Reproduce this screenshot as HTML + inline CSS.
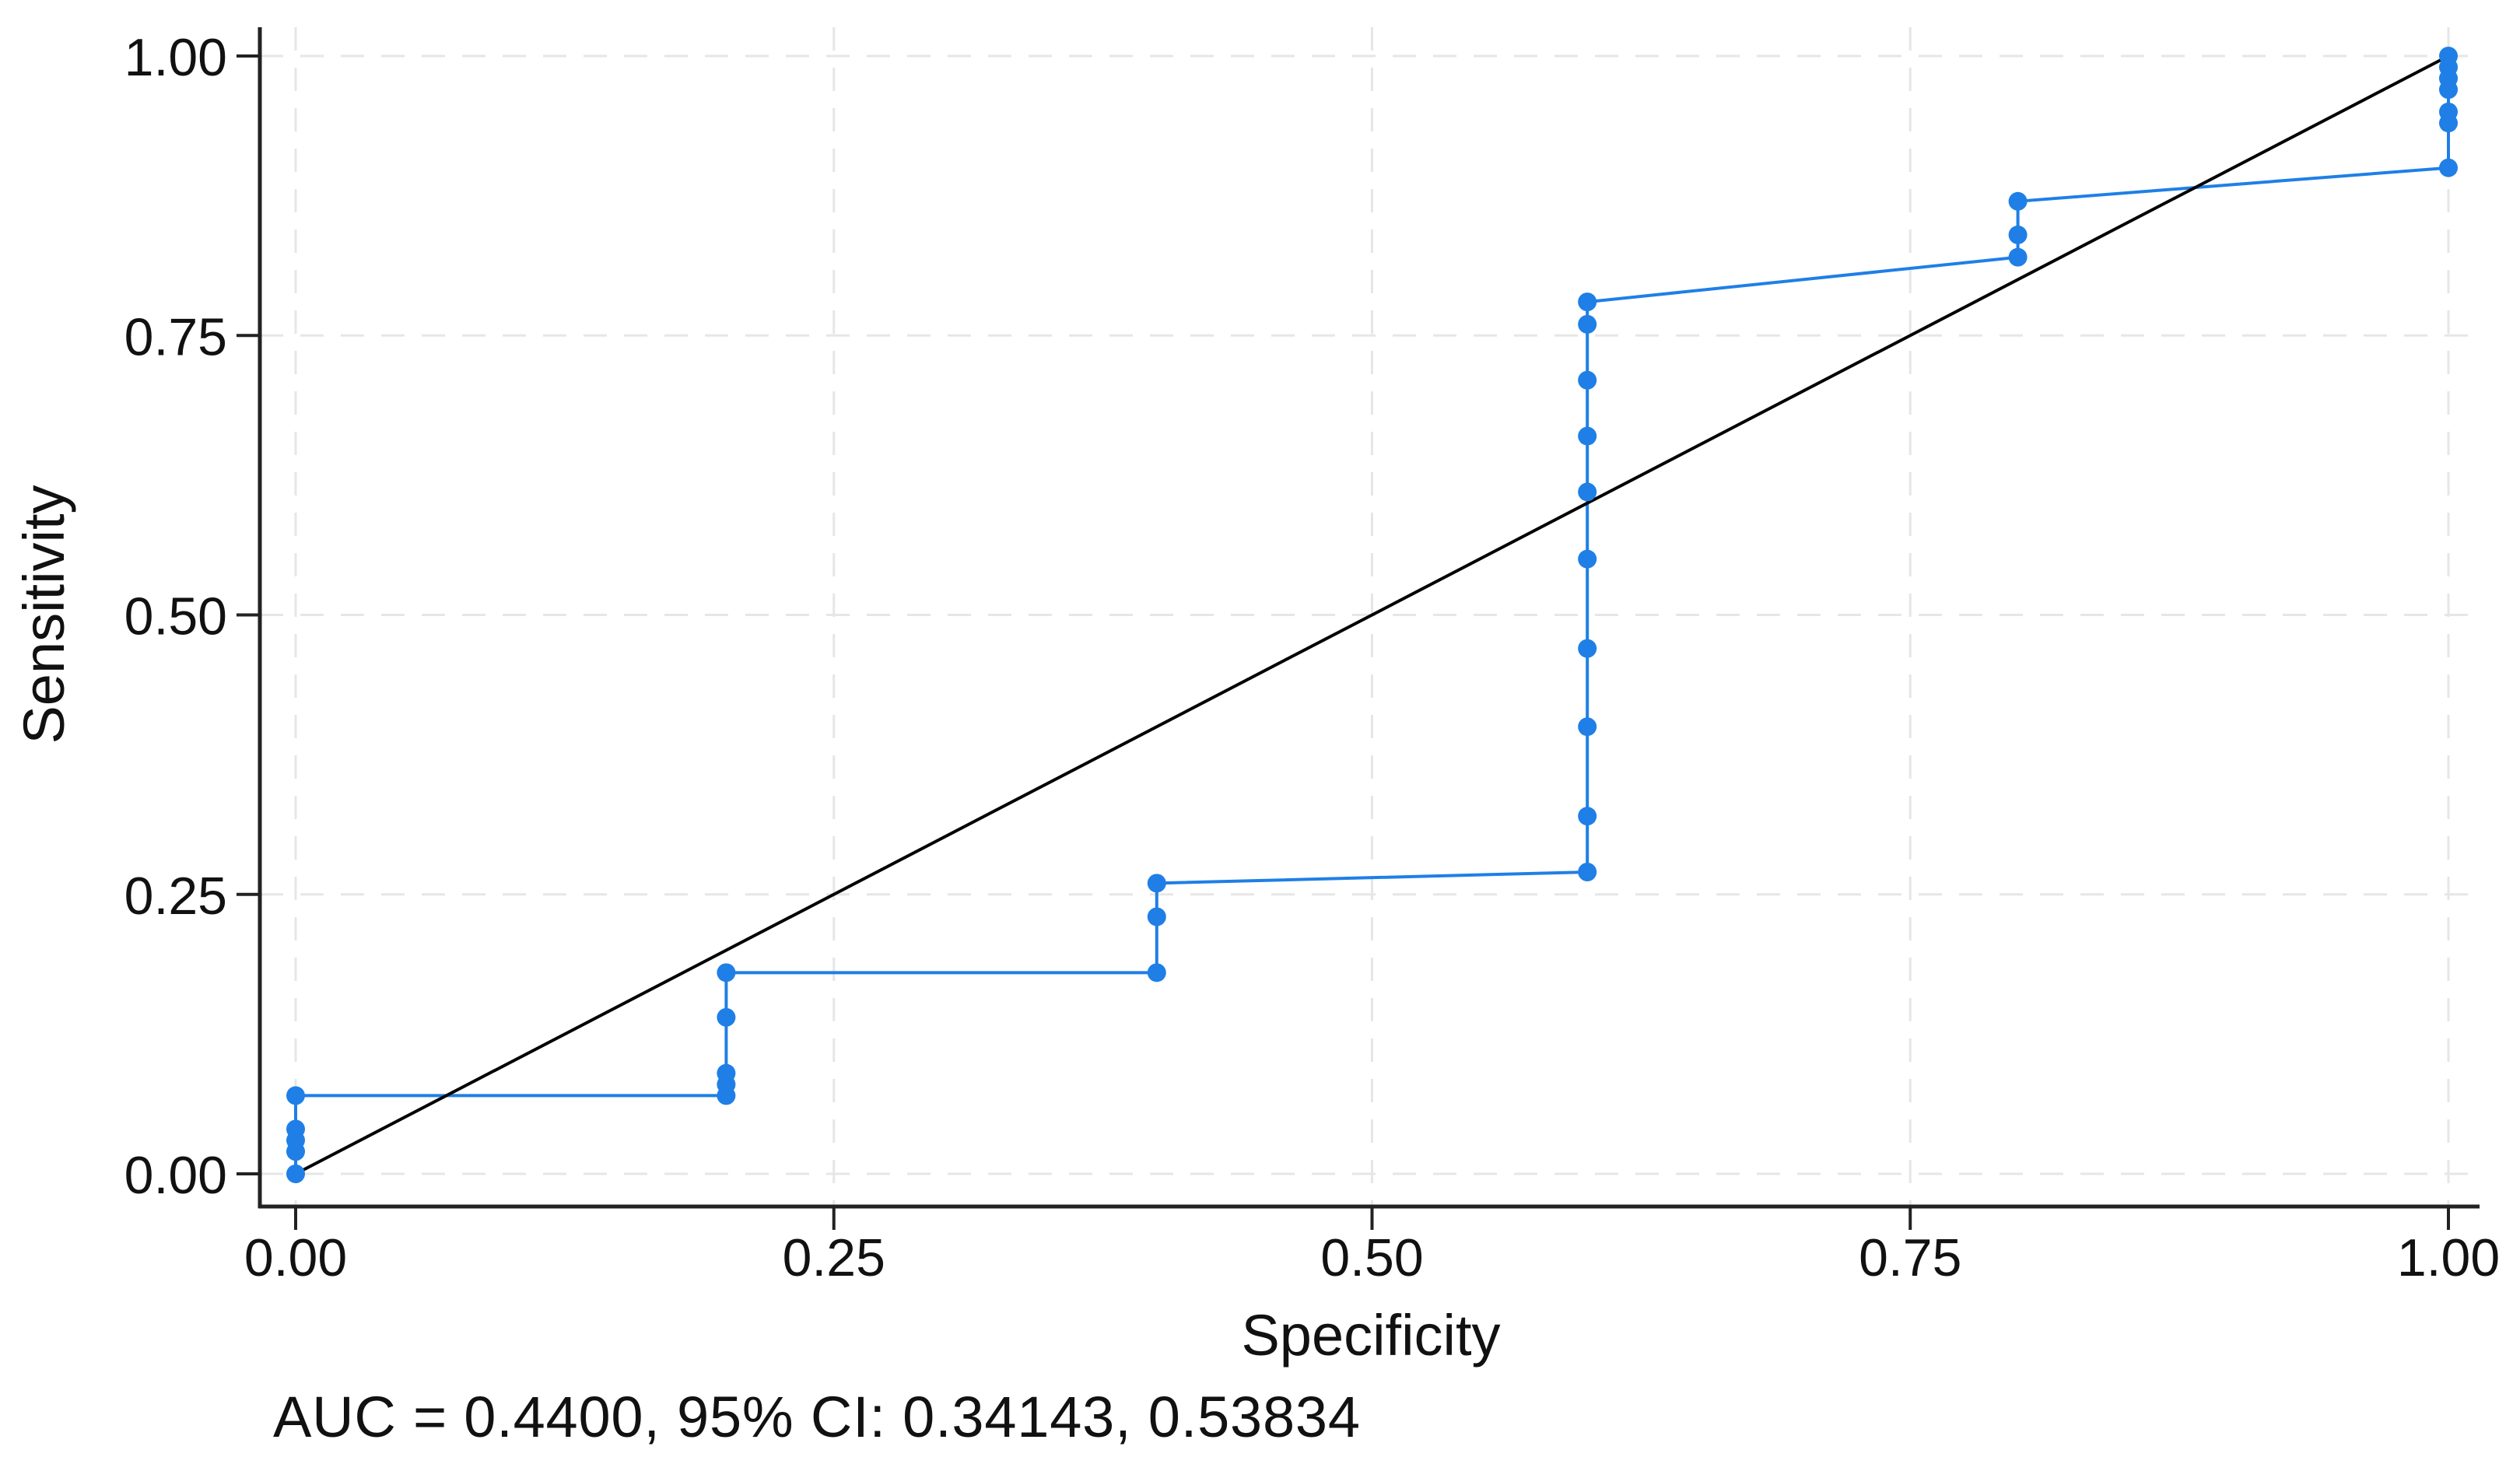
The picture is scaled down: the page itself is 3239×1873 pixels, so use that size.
<!DOCTYPE html>
<html><head><meta charset="utf-8"><style>
html,body{margin:0;padding:0;background:#fff;}
svg{display:block;font-family:"Liberation Sans",Arial,sans-serif;}
</style></head><body>
<svg id="chart" width="3239" height="1873" viewBox="0 0 3239 1873" xmlns="http://www.w3.org/2000/svg">
<rect width="3239" height="1873" fill="#fff"/>
<g id="grid"></g>
<g id="axes"></g>
<g id="series"></g>
<text x="1762" y="1742" font-size="74" text-anchor="middle" fill="#111">Specificity</text>
<text transform="translate(82,790) rotate(-90)" font-size="74" text-anchor="middle" fill="#111">Sensitivity</text>
<text x="351" y="1847" font-size="74" fill="#111" textLength="1397">AUC = 0.4400, 95% CI: 0.34143, 0.53834</text>
</svg>
<script>
const xTicks = [0, 0.25, 0.5, 0.75, 1];
const xTickLabels = ["0.00", "0.25", "0.50", "0.75", "1.00"];
const yTicks = [0, 0.25, 0.5, 0.75, 1];
const yTickLabels = ["0.00", "0.25", "0.50", "0.75", "1.00"];
const rocX = [0,0,0,0,0, 0.2,0.2,0.2,0.2,0.2, 0.4,0.4,0.4, 0.6,0.6,0.6,0.6,0.6,0.6,0.6,0.6,0.6,0.6, 0.8,0.8,0.8, 1,1,1,1,1,1,1];
const rocY = [0,0.02,0.03,0.04,0.07, 0.07,0.08,0.09,0.14,0.18, 0.18,0.23,0.26, 0.27,0.32,0.40,0.47,0.55,0.61,0.66,0.71,0.76,0.78, 0.82,0.84,0.87, 0.90,0.94,0.95,0.97,0.98,0.99,1.00];
const refX = [0, 1];
const refY = [0, 1];

const NS = "http://www.w3.org/2000/svg";
const X0 = 380, X1 = 3147, Y0 = 1509, Y1 = 72;
const AX_L = 334, AX_B = 1551, AX_R = 3187, AX_T = 35;
function sx(v){ return X0 + v * (X1 - X0); }
function sy(v){ return Y0 - v * (Y0 - Y1); }
function mk(tag, attrs, parent){
  const e = document.createElementNS(NS, tag);
  for (const k in attrs) e.setAttribute(k, attrs[k]);
  parent.appendChild(e);
  return e;
}
const grid = document.getElementById('grid');
const axes = document.getElementById('axes');
const series = document.getElementById('series');

yTicks.forEach((t, i) => {
  const g = mk('line', {x1: AX_L, x2: AX_R, y1: sy(t), y2: sy(t), stroke: '#e6e6e6', 'stroke-width': 3, 'stroke-dasharray': '30 22'}, grid);
  
  
  const tk = mk('line', {x1: AX_L - 30, x2: AX_L, y1: sy(t), y2: sy(t), stroke: '#222', 'stroke-width': 4}, axes);
  
  
  const lb = mk('text', {x: 292, y: sy(t) + 25, 'font-size': 68, 'text-anchor': 'end', fill: '#111'}, axes);
  lb.textContent = yTickLabels[i];
  
  
});
xTicks.forEach((t, i) => {
  const g = mk('line', {x1: sx(t), x2: sx(t), y1: AX_T, y2: AX_B, stroke: '#e6e6e6', 'stroke-width': 3, 'stroke-dasharray': '30 22'}, grid);
  
  
  const tk = mk('line', {x1: sx(t), x2: sx(t), y1: AX_B, y2: AX_B + 30, stroke: '#222', 'stroke-width': 4}, axes);
  
  
  const lb = mk('text', {x: sx(t), y: 1640, 'font-size': 68, 'text-anchor': 'middle', fill: '#111'}, axes);
  lb.textContent = xTickLabels[i];
  
  
});
const yAxis = mk('line', {x1: AX_L, x2: AX_L, y1: AX_T, y2: AX_B + 2, stroke: '#222', 'stroke-width': 5}, axes);


const xAxis = mk('line', {x1: AX_L - 2, x2: AX_R, y1: AX_B, y2: AX_B, stroke: '#222', 'stroke-width': 5}, axes);



const pts = rocX.map((v, i) => sx(v) + ',' + sy(rocY[i])).join(' ');
const pl = mk('polyline', {points: pts, fill: 'none', stroke: '#1f7fe6', 'stroke-width': 4, 'stroke-linejoin': 'round'}, series);


const ref = mk('line', {x1: sx(refX[0]), y1: sy(refY[0]), x2: sx(refX[1]), y2: sy(refY[1]), stroke: '#000', 'stroke-width': 4}, series);


rocX.forEach((v, i) => {
  const c = mk('circle', {cx: sx(v), cy: sy(rocY[i]), r: 12, fill: '#1f7fe6'}, series);
  
  
});
</script>
</body></html>
